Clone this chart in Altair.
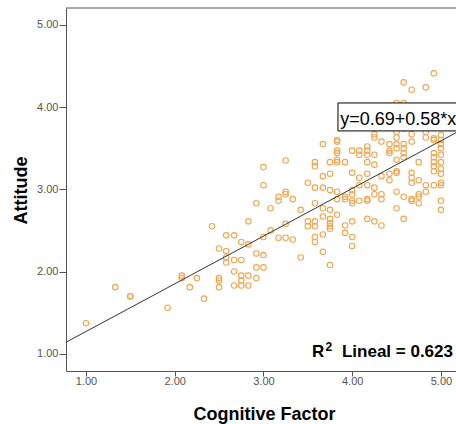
import altair as alt
import pandas as pd

# ---- data ----
cog_levels = [1.00, 1.33, 1.50, 1.92, 2.08, 2.17, 2.25, 2.33, 2.42, 2.50,
              2.58, 2.67, 2.75, 2.83, 2.92, 3.00, 3.08, 3.17, 3.25, 3.33,
              3.42, 3.50, 3.58, 3.67, 3.75, 3.83, 3.92, 4.00, 4.08, 4.17,
              4.25, 4.33, 4.42, 4.50, 4.58, 4.67, 4.75, 4.83, 4.92, 5.00]
att_groups = [
    [1.37], [1.81], [1.70, 1.70], [1.56], [1.95, 1.92], [1.81], [1.92], [1.67], [2.55],
    [1.92, 1.89, 1.81, 2.28],
    [2.44, 2.25, 2.17, 2.11],
    [2.44, 2.14, 2.00, 1.83],
    [2.36, 2.14, 1.95, 1.89, 1.83],
    [2.33, 2.61, 1.95, 1.83],
    [2.83, 2.22, 2.05, 1.92],
    [3.27, 3.05, 2.42, 2.20, 2.05],
    [2.77, 2.50],
    [2.91, 2.86, 2.41],
    [3.35, 2.97, 2.94, 2.58, 2.41],
    [2.88, 2.39],
    [2.75, 2.17],
    [3.08, 2.61, 2.55],
    [3.33, 3.28, 3.02, 2.83, 2.61, 2.55, 2.42, 2.36],
    [3.55, 3.16, 3.02, 2.77, 2.67, 2.45, 2.24],
    [3.33, 3.19, 2.99, 2.75, 2.64, 2.59, 2.55, 2.52, 2.08],
    [3.60, 3.58, 3.47, 3.44, 3.36, 3.33, 2.97, 2.88, 2.69],
    [3.33, 2.91, 2.88, 2.56, 2.47],
    [3.47, 3.20, 2.99, 2.94, 2.86, 2.83, 2.61, 2.42, 2.31],
    [3.47, 3.42, 3.14, 3.05, 2.86],
    [3.52, 3.47, 3.42, 3.33, 3.19, 3.05, 2.88, 2.86, 2.64],
    [3.67, 3.63, 3.42, 3.30, 3.02, 2.94, 2.61],
    [3.58, 3.16, 2.94, 2.88, 2.56],
    [3.55, 3.47, 3.44, 3.19, 3.11],
    [4.05, 3.70, 3.63, 3.55, 3.50, 3.36, 3.22, 3.20, 2.97, 2.77],
    [4.30, 4.05, 3.74, 3.55, 3.50, 3.44, 3.39, 2.91, 2.64],
    [4.21, 3.67, 3.58, 3.20, 3.14, 3.08, 2.88, 2.86],
    [3.33, 3.11, 2.94, 2.91, 2.83],
    [4.24, 3.70, 3.63, 3.05, 2.97],
    [4.41, 3.62, 3.60, 3.44, 3.39, 3.33, 3.28, 3.22, 3.05],
    [3.66, 3.60, 3.55, 3.50, 3.42, 3.33, 3.25, 3.19, 3.08, 3.05, 2.86, 2.75],
]
axis_ticks = [1, 2, 3, 4, 5]
INTERCEPT = 0.69
SLOPE = 0.58
R2 = 0.623
X_DOMAIN = [0.775, 5.17]
Y_DOMAIN = [0.79, 5.205]

rows = [(x, y) for x, ys in zip(cog_levels, att_groups) for y in ys]
df = pd.DataFrame(rows, columns=["Cognitive", "Attitude"])

FONT = "Liberation Sans"
AX = "#555555"
ORANGE = "#F5A34A"

xs = alt.Scale(domain=X_DOMAIN, nice=False, zero=False)
ys = alt.Scale(domain=Y_DOMAIN, nice=False, zero=False)

x_axis = alt.Axis(values=axis_ticks, format=".2f", title="Cognitive Factor", grid=False,
                  tickSize=5, labelPadding=-1, labelFont=FONT, labelFontSize=11,
                  labelColor=AX, tickColor=AX, domainColor=AX,
                  titleFont=FONT, titleFontSize=18, titleFontWeight="bold", titleColor="#000000",
                  titleX=198, titleY=48, titleAlign="center", titleBaseline="alphabetic")
y_axis = alt.Axis(values=axis_ticks, format=".2f", title="Attitude", grid=False,
                  tickSize=7, labelPadding=1, labelFont=FONT, labelFontSize=11,
                  labelColor=AX, tickColor=AX, domainColor=AX,
                  titleFont=FONT, titleFontSize=18, titleFontWeight="bold", titleColor="#000000",
                  titleX=-40, titleY=182, titleAngle=270, titleAlign="center",
                  titleBaseline="alphabetic")

points = alt.Chart(df).mark_point(shape="circle", filled=False, size=30, strokeWidth=1.1,
                                  color=ORANGE, opacity=1).encode(
    x=alt.X("Cognitive:Q", scale=xs, axis=x_axis),
    y=alt.Y("Attitude:Q", scale=ys, axis=y_axis),
)

line_df = pd.DataFrame({"Cognitive": X_DOMAIN,
                        "Attitude": [INTERCEPT + SLOPE * v for v in X_DOMAIN]})
fit = alt.Chart(line_df).mark_line(color="#333333", strokeWidth=1, clip=True).encode(
    x=alt.X("Cognitive:Q", scale=xs), y=alt.Y("Attitude:Q", scale=ys))

top_df = pd.DataFrame({"Attitude": [Y_DOMAIN[1]]})
top = alt.Chart(top_df).mark_rule(color=AX, strokeWidth=1).encode(
    y=alt.Y("Attitude:Q", scale=ys))

box_df = pd.DataFrame({"x": [3.84], "x2": [5.5], "y": [3.71], "y2": [4.05]})
box = alt.Chart(box_df).mark_rect(fill="white", stroke="#000000", strokeWidth=1, clip=True).encode(
    x=alt.X("x:Q", scale=xs), x2="x2:Q", y=alt.Y("y:Q", scale=ys), y2="y2:Q")

eq_df = pd.DataFrame({"x": [3.865], "y": [3.78],
                      "t": [f"y={INTERCEPT:.2f}+{SLOPE:.2f}*x"]})
eq = alt.Chart(eq_df).mark_text(font=FONT, fontSize=18, align="left", baseline="alphabetic",
                                color="#000000", clip=True).encode(
    x=alt.X("x:Q", scale=xs), y=alt.Y("y:Q", scale=ys), text="t:N")

# R² label: "R", superscript "2", and the rest
r2_df = pd.DataFrame({"x": [5.136], "y": [0.96], "t": [f"Lineal = {R2:.3f}"]})
r2 = alt.Chart(r2_df).mark_text(font=FONT, fontSize=17, fontWeight="bold", align="right",
                                baseline="alphabetic", color="#000000").encode(
    x=alt.X("x:Q", scale=xs), y=alt.Y("y:Q", scale=ys), text="t:N")

r_df = pd.DataFrame({"x": [3.685], "y": [0.96], "t": ["R"]})
r_lbl = alt.Chart(r_df).mark_text(font=FONT, fontSize=17, fontWeight="bold", align="right",
                                  baseline="alphabetic", color="#000000").encode(
    x=alt.X("x:Q", scale=xs), y=alt.Y("y:Q", scale=ys), text="t:N")

sup_df = pd.DataFrame({"x": [3.70], "y": [1.03], "t": ["2"]})
sup = alt.Chart(sup_df).mark_text(font=FONT, fontSize=12, fontWeight="bold", align="left",
                                  baseline="alphabetic", color="#000000").encode(
    x=alt.X("x:Q", scale=xs), y=alt.Y("y:Q", scale=ys), text="t:N")

chart = alt.layer(points, fit, top, box, eq, r2, r_lbl, sup).properties(
    width=390, height=363,
    padding={"left": 66, "top": 8, "right": 0, "bottom": 53},
    autosize=alt.AutoSizeParams(type="none"),
    background="white",
).configure_view(stroke=None)

chart.save("out.html", embed_options={"renderer": "svg", "actions": False})
